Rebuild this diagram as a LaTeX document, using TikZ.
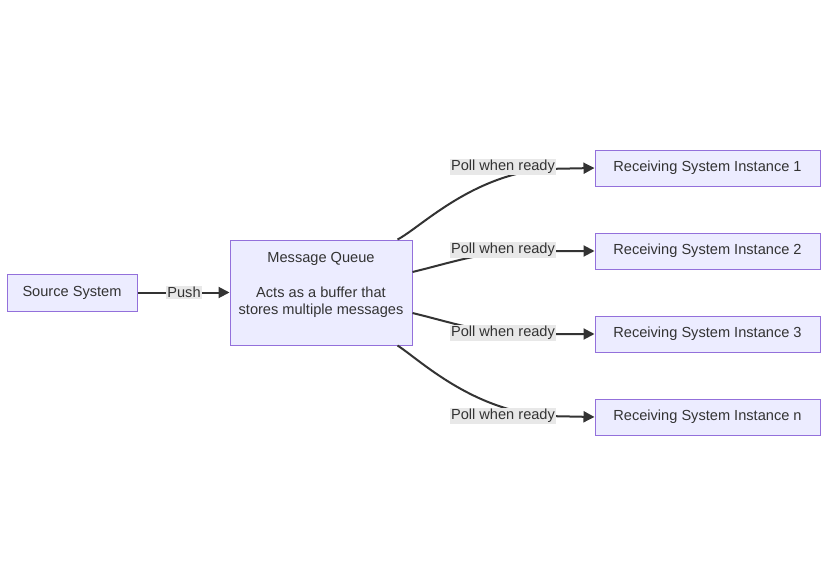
\documentclass[tikz,border=0pt]{standalone}
\usepackage{fontspec}
\setmainfont{Liberation Sans}
\usetikzlibrary{arrows.meta}
\definecolor{nodefill}{HTML}{ECECFF}
\definecolor{nodeborder}{HTML}{9370DB}
\definecolor{txt}{HTML}{333333}
\definecolor{lblbg}{HTML}{E8E8E8}
\begin{document}
\begin{tikzpicture}[x=1pt,y=-1pt,
  txtfont/.style={font=\fontsize{14.6}{17.5}\selectfont},
  box/.style={draw=nodeborder, fill=nodefill, line width=1pt, text=txt, inner sep=0pt, txtfont},
  lbl/.style={fill=lblbg, text=txt, inner sep=1.5pt, txtfont},
  conn/.style={draw=txt, line width=2pt, -{Triangle[length=11pt,width=11pt]}}]
\useasboundingbox (0,0) rectangle (828,586);
\node[box, minimum width=130pt, minimum height=37pt] (src) at (72,292.5) {Source System};
\node[box, minimum width=182pt, minimum height=105pt] (mq) at (321,292.5) {};
\node[text=txt, align=center, txtfont, inner sep=0pt] (mqtext) at (321,285) {Message Queue\\[17.5pt]Acts as a buffer that\\stores multiple messages};
\node[box, minimum width=225pt, minimum height=36pt] (r1) at (707.5,168) {Receiving System Instance 1};
\node[box, minimum width=225pt, minimum height=36pt] (r2) at (707.5,251) {Receiving System Instance 2};
\node[box, minimum width=225pt, minimum height=36pt] (r3) at (707.5,334) {Receiving System Instance 3};
\node[box, minimum width=225pt, minimum height=36pt] (rn) at (707.5,417) {Receiving System Instance n};
\coordinate (c1) at (545,169);
\coordinate (c2) at (525,251);
\coordinate (c3) at (525,334);
\coordinate (c4) at (545,416);
\draw[conn] (src.east) -- (mq.west);
\draw[conn] ([xshift=-15pt]mq.north east) .. controls (420,228) and (470,176) .. (c1) -- (r1.west);
\draw[conn] ([yshift=20.5pt]mq.east) .. controls (450,263) and (480,252) .. (c2) -- (r2.west);
\draw[conn] ([yshift=-20.5pt]mq.east) .. controls (450,322) and (480,333) .. (c3) -- (r3.west);
\draw[conn] ([xshift=-15pt]mq.south east) .. controls (420,360) and (470,409) .. (c4) -- (rn.west);
\node[lbl] (lp) at (184,292.5) {Push};
\node[lbl] (l1) at (503,167) {Poll when ready};
\node[lbl] (l2) at (503,250) {Poll when ready};
\node[lbl] (l3) at (503,333) {Poll when ready};
\node[lbl] (l4) at (503,416) {Poll when ready};
\end{tikzpicture}
\end{document}
